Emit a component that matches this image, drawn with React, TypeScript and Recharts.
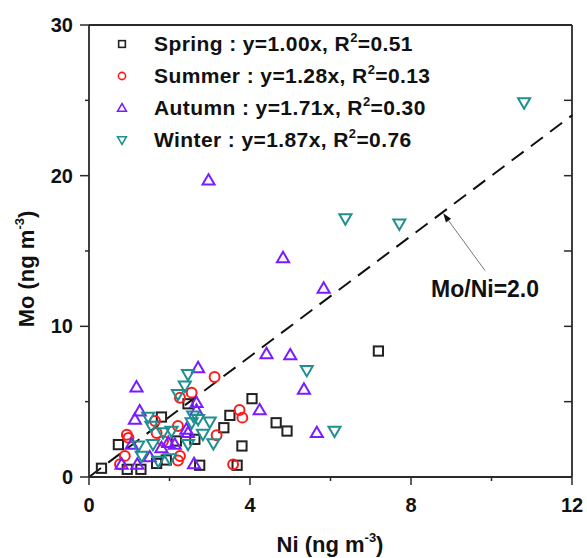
import { ScatterChart, Scatter, XAxis, YAxis, ReferenceLine, Legend } from 'recharts';

// Ni vs Mo concentrations (ng m-3), one pair of arrays per season
const springNi = [0.31, 0.73, 0.95, 1.29, 1.68, 1.92, 1.80, 2.17, 2.46, 2.63, 2.75, 3.35, 3.50, 3.68, 3.80, 4.05, 4.65, 4.92, 7.19];
const springMo = [0.58, 2.15, 0.51, 0.51, 0.90, 1.13, 3.98, 2.39, 4.86, 2.50, 0.78, 3.27, 4.09, 0.78, 2.06, 5.20, 3.60, 3.05, 8.36];

const summerNi = [0.77, 0.89, 0.94, 0.98, 1.64, 1.68, 1.84, 2.21, 2.21, 2.26, 2.26, 2.55, 3.12, 3.17, 3.58, 3.74, 3.81];
const summerMo = [0.85, 1.40, 2.80, 2.60, 3.72, 2.92, 2.39, 3.38, 1.10, 1.39, 5.26, 5.60, 6.64, 2.77, 0.84, 4.45, 3.94];

const autumnNi = [0.81, 1.06, 1.14, 1.18, 1.20, 1.26, 1.51, 1.80, 1.97, 2.13, 2.42, 2.46, 2.61, 2.67, 2.67, 2.71, 2.97, 4.24, 4.41, 4.82, 5.00, 5.34, 5.66, 5.83];
const autumnMo = [0.84, 2.17, 3.83, 5.97, 0.84, 4.38, 1.33, 1.94, 2.28, 2.17, 3.16, 2.94, 0.88, 4.42, 4.93, 7.25, 19.7, 4.45, 8.18, 14.55, 8.10, 5.82, 2.94, 12.52];

const winterNi = [1.22, 1.31, 1.47, 1.55, 1.59, 1.72, 1.84, 2.01, 2.05, 2.21, 2.38, 2.46, 2.46, 2.55, 2.59, 2.71, 2.83, 3.00, 3.09, 5.41, 6.10, 6.37, 7.71, 10.81];
const winterMo = [2.06, 1.39, 3.98, 3.38, 2.17, 1.06, 2.94, 1.21, 3.05, 5.49, 6.04, 6.81, 2.17, 3.60, 4.05, 3.83, 2.84, 3.65, 2.22, 7.08, 3.05, 17.14, 16.80, 24.84];

const seasonNames = ['Spring', 'Summer', 'Autumn', 'Winter'];
const slopes = ['1.00', '1.28', '1.71', '1.87'];
const r2Values = ['0.51', '0.13', '0.30', '0.76'];
const colors = ['#222222', '#ff1a1a', '#7a1cff', '#1f8f8f'];

const xTicks = [0, 2, 4, 6, 8, 10, 12];
const yTicks = [0, 5, 10, 15, 20, 25, 30];
const ratio = 2.0;

const FONT = '"Liberation Sans", Arial, Helvetica, sans-serif';
const AXIS = '#2a2a2a';

const toPoints = (xs: number[], ys: number[]) => xs.map((x, i) => ({ x, y: ys[i] }));
const seasonData = [
  toPoints(springNi, springMo),
  toPoints(summerNi, summerMo),
  toPoints(autumnNi, autumnMo),
  toPoints(winterNi, winterMo),
];

// open markers: square, circle, triangle up, triangle down
function marker(kind: number, cx: number, cy: number, s: number, sw = 2) {
  const stroke = colors[kind];
  const common = { fill: 'none', stroke, strokeWidth: sw };
  if (kind === 0) return <rect x={cx - s * 0.42} y={cy - s * 0.42} width={s * 0.84} height={s * 0.84} {...common} />;
  if (kind === 1) return <circle cx={cx} cy={cy} r={s * 0.45} {...common} />;
  if (kind === 2)
    return <polygon points={`${cx},${cy - s * 0.55} ${cx - s * 0.55},${cy + s * 0.4} ${cx + s * 0.55},${cy + s * 0.4}`} {...common} strokeLinejoin="miter" />;
  return <polygon points={`${cx - s * 0.55},${cy - s * 0.4} ${cx + s * 0.55},${cy - s * 0.4} ${cx},${cy + s * 0.55}`} {...common} strokeLinejoin="miter" />;
}

const makeShape = (kind: number) => (props: any) => marker(kind, props.cx, props.cy, 11);

const BottomTick = (props: any) => {
  const { x, y, payload } = props;
  const major = payload.value % 4 === 0;
  return (
    <g>
      <line x1={x} y1={y} x2={x} y2={y + (major ? 8 : 4)} stroke={AXIS} strokeWidth={1.5} />
      {major && (
        <text x={x} y={y + 35} textAnchor="middle" fontFamily={FONT} fontWeight="bold" fontSize={20} fill="#111">
          {payload.value}
        </text>
      )}
    </g>
  );
};

const LeftTick = (props: any) => {
  const { x, y, payload } = props;
  const major = payload.value % 10 === 0;
  return (
    <g>
      <line x1={x} y1={y} x2={x - (major ? 9 : 4)} y2={y} stroke={AXIS} strokeWidth={1.5} />
      {major && (
        <text x={x - 16} y={y + 7} textAnchor="end" fontFamily={FONT} fontWeight="bold" fontSize={20} fill="#111">
          {payload.value}
        </text>
      )}
    </g>
  );
};

// arrow pointing at the ratio line, with its caption under the tail
const RatioArrow = (props: any) => {
  const { x1, y1, x2, y2 } = props;
  const ang = Math.atan2(y2 - y1, x2 - x1);
  const len = 9;
  const w = 3.2;
  const bx = x2 - len * Math.cos(ang);
  const by = y2 - len * Math.sin(ang);
  const px = -Math.sin(ang) * w;
  const py = Math.cos(ang) * w;
  return (
    <g>
      <line x1={x1} y1={y1} x2={bx} y2={by} stroke="#777" strokeWidth={1} />
      <polygon points={`${x2},${y2} ${bx + px},${by + py} ${bx - px},${by - py}`} fill="#111" />
      <text x={x1} y={y1 + 26} textAnchor="middle" fontFamily={FONT} fontWeight="bold" fontSize={23} fill="#111">
        Mo/Ni={ratio.toFixed(1)}
      </text>
    </g>
  );
};

const SeasonLegend = () => (
  <div style={{ fontFamily: FONT, fontWeight: 'bold', fontSize: 21, letterSpacing: 0.4, color: '#111' }}>
    {seasonNames.map((name, i) => (
      <div key={name} style={{ height: 32, display: 'flex', alignItems: 'center', whiteSpace: 'nowrap' }}>
        <svg width={12} height={12} style={{ marginRight: 26 }}>
          {marker(i, 6, 6, 8, 1.6)}
        </svg>
        <span>
          {name} : y={slopes[i]}x, R
          <span style={{ fontSize: 13, position: 'relative', top: -9 }}>2</span>={r2Values[i]}
        </span>
      </div>
    ))}
  </div>
);

const titleStyle = {
  position: 'absolute' as const,
  fontFamily: FONT,
  fontWeight: 'bold',
  fontSize: 22,
  color: '#111',
  whiteSpace: 'nowrap' as const,
};

export default function App() {
  return (
    <div style={{ position: 'absolute', left: 0, top: 0, width: 587, height: 558, background: '#fff' }}>
      <ScatterChart width={587} height={558} margin={{ top: 25, right: 15, bottom: 41, left: 29 }}>
        <XAxis
          type="number"
          dataKey="x"
          domain={[0, 12]}
          ticks={xTicks}
          interval={0}
          height={40}
          tickSize={0}
          tickMargin={0}
          tickLine={false}
          tick={BottomTick}
          axisLine={{ stroke: AXIS, strokeWidth: 1.8 }}
        />
        <YAxis
          type="number"
          dataKey="y"
          domain={[0, 30]}
          ticks={yTicks}
          interval={0}
          width={60}
          tickSize={0}
          tickMargin={0}
          tickLine={false}
          tick={LeftTick}
          axisLine={{ stroke: AXIS, strokeWidth: 1.8 }}
        />
        {/* frame: top and right edges, with inward ticks on the right */}
        <ReferenceLine y={30} stroke={AXIS} strokeWidth={1.8} />
        <ReferenceLine x={12} stroke={AXIS} strokeWidth={1.8} />
        {yTicks.slice(1, -1).map((v) => (
          <ReferenceLine key={v} segment={[{ x: 11.8, y: v }, { x: 12, y: v }]} stroke={AXIS} strokeWidth={1.5} />
        ))}
        <ReferenceLine
          segment={[{ x: 0, y: 0 }, { x: 12, y: 12 * ratio }]}
          stroke="#111"
          strokeWidth={2}
          strokeDasharray="15 9"
        />
        <ReferenceLine
          segment={[{ x: 9.84, y: 13.7 }, { x: 8.8, y: 17.5 }]}
          shape={RatioArrow}
        />
        {seasonNames.map((name, i) => (
          <Scatter
            key={name}
            name={name}
            data={seasonData[i]}
            shape={makeShape(i)}
            fill={colors[i]}
            isAnimationActive={false}
          />
        ))}
        <Legend
          content={SeasonLegend}
          layout="vertical"
          verticalAlign="middle"
          align="center"
          wrapperStyle={{ left: 116, top: 28, width: 'auto' }}
        />
      </ScatterChart>
      <div style={{ ...titleStyle, left: 330, top: 545, transform: 'translate(-50%, -50%)' }}>
        Ni (ng m<span style={{ fontSize: 13, position: 'relative', top: -10 }}>-3</span>)
      </div>
      <div style={{ ...titleStyle, left: 27, top: 269, transform: 'translate(-50%, -50%) rotate(-90deg)' }}>
        Mo (ng m<span style={{ fontSize: 13, position: 'relative', top: -10 }}>-3</span>)
      </div>
    </div>
  );
}
